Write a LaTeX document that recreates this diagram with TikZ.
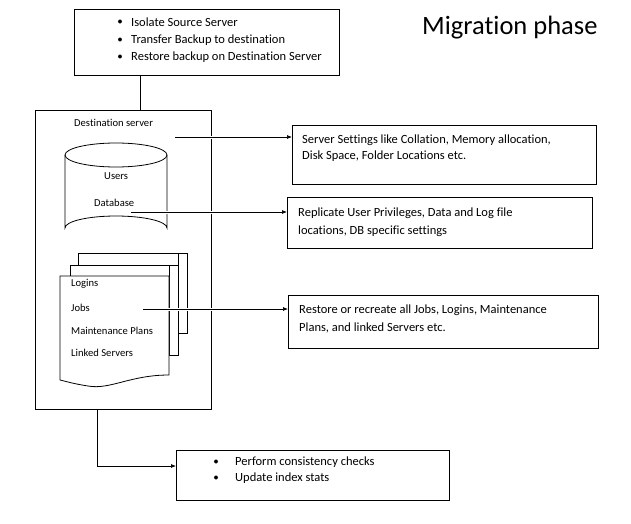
\documentclass[tikz,border=0pt]{standalone}
\usepackage{fontspec}
\setmainfont{Carlito}[Ligatures=NoCommon]
\usetikzlibrary{arrows.meta}
\begin{document}
\begin{tikzpicture}[x=1pt,y=-1pt,
  box/.style={draw,line width=0.8pt},
  txt/.style={anchor=west,inner sep=0pt,font=\fontsize{12.5}{14}\selectfont},
  stxt/.style={anchor=west,inner sep=0pt,font=\fontsize{10.6}{12}\selectfont},
  arr/.style={-{Latex[length=5pt,width=4pt]},line width=0.7pt,preaction={draw,white,line width=3pt,-}},
  bul/.style={inner sep=0pt,font=\fontsize{10}{12}\selectfont}]
\useasboundingbox (0,0) rectangle (631,524);
% top box
\node[box,minimum width=265,minimum height=66,anchor=north west] (top) at (74,9) {};
\foreach \y/\t in {22/Isolate Source Server,40/Transfer Backup to destination,57/Restore backup on Destination Server}{
  \node[bul] at (120,\y) {$\bullet$}; \node[txt] at (131,\y) {\t};}
\node[anchor=west,inner sep=0pt,font=\fontsize{26.5}{30}\selectfont] (title) at (422,28) {Migration phase};
% destination server
\node[box,minimum width=176,minimum height=299,anchor=north west] (dest) at (35,110) {};
\node[stxt] (dtitle) at (74,123) {Destination server};
\draw[line width=0.8pt] (140,75) -- (140,110);
% cylinder
\draw[line width=0.8pt] (65,155) -- (65,228) arc[start angle=180,end angle=360,x radius=51,y radius=12] -- (167,155);
\draw[line width=0.8pt] (116,155) ellipse[x radius=51,y radius=12];
\node[stxt] (users) at (104,176) {Users};
\node[stxt] (db) at (94,203) {Database};
% documents
\draw[line width=0.8pt,fill=white] (78,253) -- (187,253) -- (187,333) -- (178,333) -- (178,253);
\draw[line width=0.8pt,fill=white] (70,265) -- (178,265) -- (178,355) -- (169,355) -- (169,265);
\draw[line width=0.8pt,fill=white] (60,276) -- (169,276) -- (169,375) .. controls (130,375) and (110,390) .. (88,386) .. controls (75,384) and (68,382) .. (60,380) -- cycle;
\draw[line width=0.8pt] (78,253) -- (78,265); \draw[line width=0.8pt] (70,265) -- (70,276);
\node[stxt] (logins) at (71,284) {Logins};
\node[stxt] (jobs) at (71,308) {Jobs};
\node[stxt] (mp) at (71,331) {Maintenance Plans};
\node[stxt] (ls) at (71,353) {Linked Servers};
% right boxes
\node[box,minimum width=304,minimum height=59,anchor=north west] (b1) at (292,125) {};
\node[txt] at (302,140) {Server Settings like Collation, Memory allocation,};
\node[txt] at (302,156) {Disk Space, Folder Locations etc.};
\node[box,minimum width=305,minimum height=51,anchor=north west] (b2) at (287,197) {};
\node[txt] at (298,213) {Replicate User Privileges, Data and Log file};
\node[txt] at (298,231) {locations, DB specific settings};
\node[box,minimum width=310,minimum height=53,anchor=north west] (b3) at (288,295) {};
\node[txt] at (299,310) {Restore or recreate all Jobs, Logins, Maintenance};
\node[txt] at (299,328) {Plans, and linked Servers etc.};
\coordinate (s1) at (175,137); \coordinate (e1) at (292,137);
\coordinate (s2) at (131,212); \coordinate (e2) at (287,212);
\coordinate (s3) at (143,309); \coordinate (e3) at (288,309);
\draw[arr] (s1) -- (e1);
\draw[arr] (s2) -- (e2);
\draw[arr] (s3) -- (e3);
% bottom
\node[box,minimum width=273,minimum height=50,anchor=north west] (b4) at (176,450) {};
\node[bul] at (216,462) {$\bullet$}; \node[txt] at (235,462) {Perform consistency checks};
\node[bul] at (216,478) {$\bullet$}; \node[txt] at (235,478) {Update index stats};
\coordinate (c1) at (97,409); \coordinate (c2) at (97,466); \coordinate (e4) at (176,466);
\draw[line width=0.7pt,-{Latex[length=5pt,width=4pt]}] (c1) -- (c2) -- (e4);
\end{tikzpicture}
\end{document}
